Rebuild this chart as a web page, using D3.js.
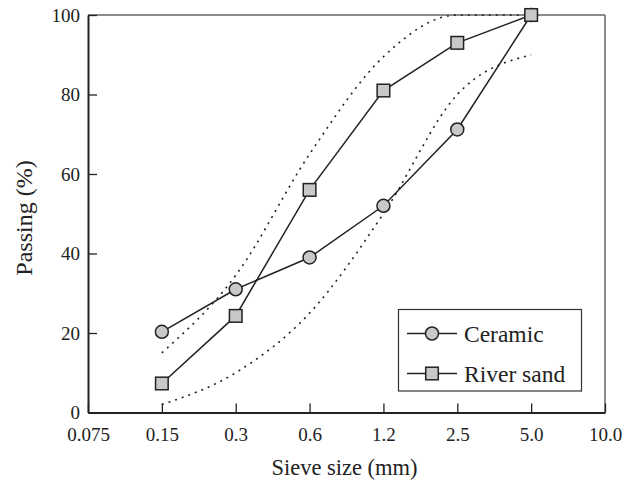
<!DOCTYPE html>
<html><head><meta charset="utf-8">
<script src="https://cdn.jsdelivr.net/npm/d3@7"></script>
<style>body{margin:0;background:#fff}svg{display:block}text{font-family:"Liberation Serif","Times New Roman",serif;fill:#222}</style>
</head><body><svg id="c" width="633" height="481"></svg>
<script>
const sieveLabels = ["0.075","0.15","0.3","0.6","1.2","2.5","5.0","10.0"];
const dataSieves = ["0.15","0.3","0.6","1.2","2.5","5.0"];
const ceramic = [20.3, 31, 39, 52, 71.2, 100];
const riverSand = [7.3, 24.3, 56, 81, 93, 100];
const upperLimit = [15, 34.5, 65, 89.5, 100, 100];
const lowerLimit = [2, 10, 25, 50, 80, 90];
const yTicks = [0, 20, 40, 60, 80, 100];

const svg = d3.select("#c");
const L = 88, R = 605, T = 15, B = 412.5;
const x = d3.scalePoint().domain(sieveLabels).range([L, R]);
const y = d3.scaleLinear().domain([0, 100]).range([B, T]);
const FONT = "'Liberation Serif','Times New Roman',serif";

svg.append("line").attr("x1",L).attr("x2",R).attr("y1",T).attr("y2",T).attr("stroke","#666").attr("stroke-width",1.5);
svg.append("line").attr("x1",R).attr("x2",R).attr("y1",T).attr("y2",B).attr("stroke","#666").attr("stroke-width",1.5);

const xAxis = svg.append("g").attr("transform",`translate(0,${B})`)
  .call(d3.axisBottom(x).tickSizeInner(-9).tickSizeOuter(0).tickPadding(15));
const yAxis = svg.append("g").attr("transform",`translate(${L},0)`)
  .call(d3.axisLeft(y).tickValues(yTicks).tickSizeInner(-9).tickSizeOuter(0).tickPadding(8));
[xAxis,yAxis].forEach(g=>{
  g.attr("font-family",FONT).attr("font-size",19);
  g.select(".domain").attr("stroke","#222").attr("stroke-width",2);
  g.selectAll(".tick line").attr("stroke","#222").attr("stroke-width",1.3);
  g.selectAll(".tick text").attr("fill","#222");
});

svg.append("text").attr("x",(L+R)/2 - 2).attr("y",475).attr("text-anchor","middle").attr("font-size",22.5).text("Sieve size (mm)");
svg.append("text").attr("transform",`translate(32,218) rotate(-90)`).attr("text-anchor","middle").attr("font-size",24).text("Passing (%)");

const limLine = d3.line().x((d,i)=>x(dataSieves[i])).y(d=>y(d)).curve(d3.curveMonotoneX);
[upperLimit, lowerLimit].forEach(arr=>{
  svg.append("path").attr("d",limLine(arr)).attr("fill","none").attr("stroke","#222")
    .attr("stroke-width",1.6).attr("stroke-dasharray","2,5");
});

const ln = d3.line().x((d,i)=>x(dataSieves[i])).y(d=>y(d));
svg.append("path").attr("d",ln(ceramic)).attr("fill","none").attr("stroke","#222").attr("stroke-width",1.5);
svg.append("path").attr("d",ln(riverSand)).attr("fill","none").attr("stroke","#222").attr("stroke-width",1.5);

svg.selectAll(".cm").data(ceramic).enter().append("circle")
  .attr("cx",(d,i)=>x(dataSieves[i])).attr("cy",d=>y(d)).attr("r",6.5)
  .attr("fill","#c8c8c8").attr("stroke","#222").attr("stroke-width",1.5);
svg.selectAll(".sq").data(riverSand).enter().append("rect")
  .attr("x",(d,i)=>x(dataSieves[i])-6.3).attr("y",d=>y(d)-6.3).attr("width",12.6).attr("height",12.6)
  .attr("fill","#c8c8c8").attr("stroke","#222").attr("stroke-width",1.5);

const lg = svg.append("g");
lg.append("rect").attr("x",398.5).attr("y",309.5).attr("width",183).attr("height",81.5)
  .attr("fill","#fff").attr("stroke","#333").attr("stroke-width",1.2);
const items = [{name:"Ceramic",type:"c",yy:333.5},{name:"River sand",type:"s",yy:373.5}];
items.forEach(it=>{
  lg.append("line").attr("x1",407).attr("x2",457).attr("y1",it.yy).attr("y2",it.yy).attr("stroke","#222").attr("stroke-width",1.5);
  if(it.type==="c") lg.append("circle").attr("cx",432).attr("cy",it.yy).attr("r",6.5).attr("fill","#c8c8c8").attr("stroke","#222").attr("stroke-width",1.5);
  else lg.append("rect").attr("x",425.7).attr("y",it.yy-6.3).attr("width",12.6).attr("height",12.6).attr("fill","#c8c8c8").attr("stroke","#222").attr("stroke-width",1.5);
  lg.append("text").attr("x",464).attr("y",it.yy).attr("dy","0.35em").attr("font-size",23.5).text(it.name);
});
</script></body></html>
